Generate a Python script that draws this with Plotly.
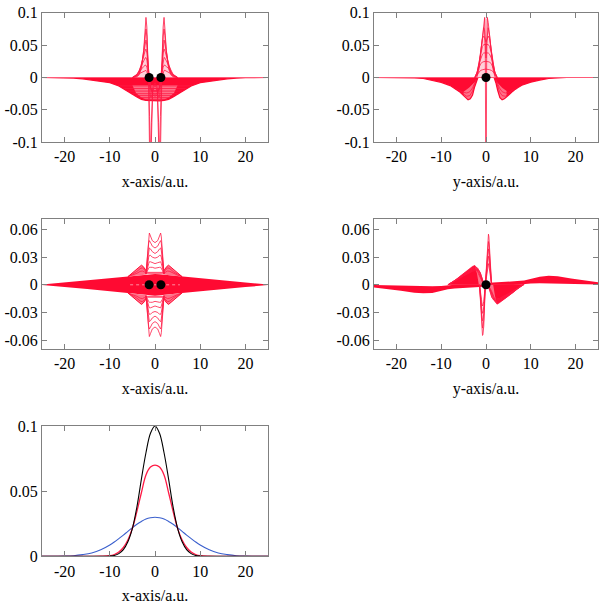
import plotly.graph_objects as go

RED = "#ff0a32"
PINK = "#ff7088"
LINE = "#ff1a45"
FONT = "Liberation Serif"
FS = 16

# ---------------- Panel 1 (x-axis, top left) ----------------
env1_x = [-25, -20, -18, -16, -14, -12, -10, -8, -6.5, -5, -4, -3, -2, -1, 0,
          1, 2, 3, 4, 5, 6.5, 8, 10, 12, 14, 16, 18, 20, 25]
env1_y = [0, -0.0001, -0.0008, -0.002, -0.0038, -0.0058, -0.008, -0.0132, -0.019, -0.026, -0.030, -0.0338, -0.0355, -0.036, -0.036,
          -0.036, -0.0355, -0.0338, -0.030, -0.026, -0.019, -0.0132, -0.008, -0.0058, -0.0038, -0.002, -0.0008, -0.0001, 0]
pink1_x = [-5, 5, 4.2, 3, 2, 0, -2, -3, -4.2]
pink1_y = [-0.012, -0.012, -0.024, -0.031, -0.034, -0.0345, -0.034, -0.031, -0.024]
mesh1_d = [-0.013, -0.017, -0.021, -0.025, -0.028, -0.031, -0.0335]
mesh1_hw = [8.0, 7.0, 6.1, 5.2, 4.5, 3.8, 3.1]
peakfill1_x = [-4, -3.5, -3, -2.5, -2.2, -2, -1.8, -1.6, -1.45, -4]
peakfill1_y = [0, 0.004, 0.014, 0.042, 0.075, 0.093, 0.078, 0.035, 0, 0]
peakfill1r_x = [4, 3.5, 3, 2.5, 2.2, 2, 1.8, 1.6, 1.45, 4]
peakfill1r_y = [0, 0.004, 0.014, 0.042, 0.075, 0.093, 0.078, 0.035, 0, 0]
pk1_x = [-5, -4, -3.5, -3, -2.5, -2.2, -2, -1.8, -1.6, -1.4, -1.2, -1.0, -0.8, -0.5, 0,
         0.5, 0.8, 1.0, 1.2, 1.4, 1.6, 1.8, 2, 2.2, 2.5, 3, 3.5, 4, 5]
pk1_A = [0, 0.001, 0.004, 0.014, 0.042, 0.075, 0.093, 0.078, 0.035, -0.01, -0.12, -0.2, -0.1, -0.015, -0.008,
         -0.015, -0.1, -0.2, -0.12, -0.01, 0.035, 0.078, 0.093, 0.075, 0.042, 0.014, 0.004, 0.001, 0]
pk1_B = [0, 0.002, 0.006, 0.017, 0.042, 0.065, 0.075, 0.064, 0.032, 0.0, -0.06, -0.13, -0.07, -0.018, -0.012,
         -0.018, -0.07, -0.13, -0.06, 0.0, 0.032, 0.064, 0.075, 0.065, 0.042, 0.017, 0.006, 0.002, 0]
pk1_C = [0, 0.003, 0.008, 0.019, 0.038, 0.052, 0.058, 0.05, 0.027, 0.006, -0.012, -0.03, -0.03, -0.02, -0.016,
         -0.02, -0.03, -0.03, -0.012, 0.006, 0.027, 0.05, 0.058, 0.052, 0.038, 0.019, 0.008, 0.003, 0]
pk1_D = [0, 0.004, 0.01, 0.02, 0.033, 0.041, 0.044, 0.038, 0.022, 0.007, -0.006, -0.016, -0.02, -0.02, -0.019,
         -0.02, -0.02, -0.016, -0.006, 0.007, 0.022, 0.038, 0.044, 0.041, 0.033, 0.02, 0.01, 0.004, 0]
pk1_E = [0, 0.005, 0.011, 0.019, 0.026, 0.03, 0.031, 0.027, 0.016, 0.005, -0.005, -0.013, -0.019, -0.022, -0.022,
         -0.022, -0.019, -0.013, -0.005, 0.005, 0.016, 0.027, 0.031, 0.03, 0.026, 0.019, 0.011, 0.005, 0]
pk1_F = [0, 0.004, 0.009, 0.014, 0.017, 0.019, 0.019, 0.016, 0.009, 0.002, -0.006, -0.014, -0.02, -0.025, -0.026,
         -0.025, -0.02, -0.014, -0.006, 0.002, 0.009, 0.016, 0.019, 0.019, 0.017, 0.014, 0.009, 0.004, 0]
pk1_G = [0, 0.003, 0.006, 0.008, 0.01, 0.011, 0.011, 0.009, 0.004, -0.002, -0.009, -0.016, -0.022, -0.027, -0.029,
         -0.027, -0.022, -0.016, -0.009, -0.002, 0.004, 0.009, 0.011, 0.011, 0.01, 0.008, 0.006, 0.003, 0]
nuc1_x = [-1.3, 1.3]
nuc1_y = [0, 0]

# ---------------- Panel 2 (y-axis, top right) ----------------
env2_x = [-25, -18, -16, -14, -12, -10, -8, -7, -6, -5, -4.5, -4, -3.5, -3, -2.6, -2.2, -1.8,
          1.8, 2.2, 2.6, 3.1, 3.6, 4.1, 4.6, 5.5, 6.5, 8, 10, 12, 14, 16, 18, 25]
env2_y = [0, 0, -0.0005, -0.0015, -0.004, -0.0075, -0.0125, -0.0165, -0.0215, -0.028, -0.032, -0.0345, -0.033, -0.027, -0.016, -0.006, 0,
          0, -0.008, -0.02, -0.031, -0.0345, -0.033, -0.03, -0.024, -0.018, -0.012, -0.0072, -0.004, -0.0015, -0.0005, 0, 0]
pw2L_x = [-5.0, -4.5, -4.0, -3.5, -3.0, -2.6, -2.3, -2.4, -3.0, -3.8, -5.0]
pw2L_y = [-0.028, -0.032, -0.0345, -0.033, -0.027, -0.016, -0.009, -0.006, -0.011, -0.016, -0.022]
pw2R_x = [2.2, 2.6, 3.1, 3.6, 4.1, 4.6, 4.6, 3.6, 2.9, 2.3]
pw2R_y = [-0.008, -0.02, -0.031, -0.0345, -0.033, -0.03, -0.021, -0.016, -0.011, -0.006]
wl2_x = [-7, -6, -5, -4.3, -3.6, -3.0, -2.6, -2.2]
wl2_a = [-0.0165, -0.021, -0.026, -0.029, -0.028, -0.021, -0.012, -0.004]
wl2_b = [-0.0165, -0.02, -0.023, -0.024, -0.022, -0.016, -0.009, -0.003]
wr2_x = [2.2, 2.6, 3.0, 3.6, 4.3, 5.0, 6.0, 7.0]
wr2_a = [-0.004, -0.013, -0.022, -0.028, -0.029, -0.026, -0.021, -0.0165]
wr2_b = [-0.003, -0.009, -0.016, -0.022, -0.024, -0.023, -0.02, -0.016]
peakfill2_x = [-2.2, -2, -1.6, -1.2, -0.8, -0.5, -0.3, 0, 0.3, 0.5, 0.8, 1.2, 1.6, 2, 2.2]
peakfill2_y = [0, 0.001, 0.012, 0.035, 0.064, 0.085, 0.093, 0.09, 0.093, 0.085, 0.064, 0.035, 0.012, 0.001, 0]
pk2_x = [-2.5, -2, -1.6, -1.2, -0.8, -0.5, -0.3, -0.15, 0, 0.15, 0.3, 0.5, 0.8, 1.2, 1.6, 2, 2.5]
pk2_A = [0, 0.001, 0.012, 0.035, 0.064, 0.085, 0.093, 0.03, -0.25, 0.03, 0.093, 0.085, 0.064, 0.035, 0.012, 0.001, 0]
pk2_B = [0, 0.003, 0.016, 0.04, 0.065, 0.077, 0.072, 0.055, 0.03, 0.055, 0.072, 0.077, 0.065, 0.04, 0.016, 0.003, 0]
pk2_C = [0, 0.005, 0.02, 0.042, 0.06, 0.064, 0.062, 0.058, 0.055, 0.058, 0.062, 0.064, 0.06, 0.042, 0.02, 0.005, 0]
pk2_D = [0, 0.007, 0.022, 0.038, 0.048, 0.051, 0.051, 0.05, 0.05, 0.05, 0.051, 0.051, 0.048, 0.038, 0.022, 0.007, 0]
pk2_E = [0, 0.008, 0.02, 0.03, 0.036, 0.038, 0.038, 0.038, 0.038, 0.038, 0.038, 0.038, 0.036, 0.03, 0.02, 0.008, 0]
pk2_F = [0, 0.008, 0.015, 0.021, 0.024, 0.025, 0.025, 0.025, 0.025, 0.025, 0.025, 0.025, 0.024, 0.021, 0.015, 0.008, 0]
pk2_G = [0, 0.005, 0.009, 0.011, 0.012, 0.013, 0.013, 0.013, 0.013, 0.013, 0.013, 0.013, 0.012, 0.011, 0.009, 0.005, 0]
nuc2_x = [0]
nuc2_y = [0]

# ---------------- Panel 3 (x-axis, middle left) ----------------
band3_x = [-25, -20, -15, -10, -7, -6, -5, -4, -3, -2, -1, 0, 1, 2, 3, 4, 5, 6, 7, 10, 15, 20, 25]
band3_up = [0.0003, 0.0025, 0.0045, 0.0068, 0.0082, 0.0088, 0.0094, 0.0099, 0.0104, 0.0109, 0.0114, 0.0118,
            0.0114, 0.0109, 0.0104, 0.0099, 0.0094, 0.0088, 0.0082, 0.0068, 0.0045, 0.0025, 0.0003]
band3_lo = [-0.0003, -0.0025, -0.0045, -0.0068, -0.0082, -0.0088, -0.0094, -0.0099, -0.0104, -0.0109, -0.0114, -0.0118,
            -0.0114, -0.0109, -0.0104, -0.0099, -0.0094, -0.0088, -0.0082, -0.0068, -0.0045, -0.0025, -0.0003]
shL_x = [-6, -5.5, -4.5, -3.5, -3, -2.6, -2.2, -1.85, -1.85, -3, -4.5, -6]
shL_up = [0.0088, 0.011, 0.0145, 0.019, 0.0213, 0.0198, 0.0165, 0.0145, 0.0112, 0.0104, 0.0097, 0.0088]
shL_lo = [-0.0088, -0.011, -0.0145, -0.019, -0.0213, -0.0198, -0.0165, -0.0145, -0.0112, -0.0104, -0.0097, -0.0088]
shR_x = [6, 5.5, 4.5, 3.5, 3, 2.6, 2.2, 1.85, 1.85, 3, 4.5, 6]
shR_up = [0.0088, 0.011, 0.0145, 0.019, 0.0213, 0.0198, 0.0165, 0.0145, 0.0112, 0.0104, 0.0097, 0.0088]
shR_lo = [-0.0088, -0.011, -0.0145, -0.019, -0.0213, -0.0198, -0.0165, -0.0145, -0.0112, -0.0104, -0.0097, -0.0088]
sline_x = [-6, -5, -4, -3.3, -2.8, -2.3, -1.85, 1.85, 2.3, 2.8, 3.3, 4, 5, 6]
sline_a = [0.0088, 0.0115, 0.0145, 0.0175, 0.0185, 0.016, 0.0135, 0.0135, 0.016, 0.0185, 0.0175, 0.0145, 0.0115, 0.0088]
sline_b = [0.0088, 0.0105, 0.0125, 0.0145, 0.015, 0.0138, 0.0125, 0.0125, 0.0138, 0.015, 0.0145, 0.0125, 0.0105, 0.0088]
sline_an = [-0.0088, -0.0115, -0.0145, -0.0175, -0.0185, -0.016, -0.0135, -0.0135, -0.016, -0.0185, -0.0175, -0.0145, -0.0115, -0.0088]
sline_bn = [-0.0088, -0.0105, -0.0125, -0.0145, -0.015, -0.0138, -0.0125, -0.0125, -0.0138, -0.015, -0.0145, -0.0125, -0.0105, -0.0088]
tall3_x = [-2.0, -1.85, -1.6, -1.4, -1.25, -1.0, -0.6, 0, 0.6, 1.0, 1.25, 1.4, 1.6, 1.85, 2.0]
tall3 = [
    [0.012, 0.02, 0.04, 0.052, 0.0562, 0.053, 0.048, 0.0458, 0.048, 0.053, 0.0562, 0.052, 0.04, 0.02, 0.012],
    [0.012, 0.018, 0.034, 0.045, 0.048, 0.046, 0.042, 0.040, 0.042, 0.046, 0.048, 0.045, 0.034, 0.018, 0.012],
    [0.012, 0.016, 0.028, 0.037, 0.040, 0.039, 0.036, 0.034, 0.036, 0.039, 0.040, 0.037, 0.028, 0.016, 0.012],
    [0.012, 0.015, 0.023, 0.030, 0.032, 0.032, 0.030, 0.029, 0.030, 0.032, 0.032, 0.030, 0.023, 0.015, 0.012],
    [0.012, 0.014, 0.019, 0.023, 0.025, 0.025, 0.024, 0.023, 0.024, 0.025, 0.025, 0.023, 0.019, 0.014, 0.012],
    [0.012, 0.013, 0.016, 0.018, 0.019, 0.019, 0.019, 0.018, 0.019, 0.019, 0.019, 0.018, 0.016, 0.013, 0.012],
]
tall3n = [
    [-0.012, -0.02, -0.04, -0.052, -0.0562, -0.053, -0.048, -0.0458, -0.048, -0.053, -0.0562, -0.052, -0.04, -0.02, -0.012],
    [-0.012, -0.018, -0.034, -0.045, -0.048, -0.046, -0.042, -0.040, -0.042, -0.046, -0.048, -0.045, -0.034, -0.018, -0.012],
    [-0.012, -0.016, -0.028, -0.037, -0.040, -0.039, -0.036, -0.034, -0.036, -0.039, -0.040, -0.037, -0.028, -0.016, -0.012],
    [-0.012, -0.015, -0.023, -0.030, -0.032, -0.032, -0.030, -0.029, -0.030, -0.032, -0.032, -0.030, -0.023, -0.015, -0.012],
    [-0.012, -0.014, -0.019, -0.023, -0.025, -0.025, -0.024, -0.023, -0.024, -0.025, -0.025, -0.023, -0.019, -0.014, -0.012],
    [-0.012, -0.013, -0.016, -0.018, -0.019, -0.019, -0.019, -0.018, -0.019, -0.019, -0.019, -0.018, -0.016, -0.013, -0.012],
]
mid3_x = [-5.5, 5.5]
mid3_y = [0, 0]
nuc3_x = [-1.3, 1.3]
nuc3_y = [0, 0]

# ---------------- Panel 4 (y-axis, middle right) ----------------
band4_x = [-25, -22, -19, -16, -14, -12, -10, -8.5, -7, -5, -3, -1.5, 0, 1.5, 3, 5, 7, 8.5, 10, 12, 14, 16, 19, 22, 25]
band4_up = [-0.0003, -0.0007, -0.0012, -0.0016, -0.0018, -0.0016, -0.0013, -0.0005, 0.0, 0.0005, 0.001, 0.0015, 0.002,
            0.0025, 0.003, 0.0035, 0.004, 0.0048, 0.0068, 0.0088, 0.0098, 0.0093, 0.0068, 0.0045, 0.0027]
band4_lo = [-0.0028, -0.0045, -0.0065, -0.0085, -0.0093, -0.0088, -0.0068, -0.0048, -0.004, -0.0035, -0.003, -0.0025, -0.002,
            -0.0015, -0.001, -0.0005, 0.0, 0.0005, 0.0013, 0.0016, 0.0018, 0.0016, 0.0012, 0.0007, 0.0003]
lobeP_x = [-8.5, -7, -6, -5, -4, -3, -2.5, -2.1, -1.7, -1.3, -1.0, -0.7, -0.4]
lobeP = [
    [0, 0.0045, 0.0085, 0.0125, 0.0165, 0.020, 0.021, 0.0175, 0.012, 0.0075, 0.0045, 0.002, 0.0],
    [0, 0.0043, 0.008, 0.0118, 0.0155, 0.0185, 0.0195, 0.019, 0.014, 0.009, 0.0055, 0.0025, 0.0],
    [0, 0.0041, 0.0076, 0.0111, 0.0145, 0.0172, 0.0181, 0.0182, 0.0165, 0.011, 0.0065, 0.003, 0.0],
    [0, 0.0039, 0.0072, 0.0104, 0.0135, 0.016, 0.0167, 0.0170, 0.0165, 0.0135, 0.008, 0.0035, 0.0],
    [0, 0.0037, 0.0068, 0.0097, 0.0125, 0.0148, 0.0154, 0.0157, 0.0155, 0.0135, 0.009, 0.004, 0.0],
]
lobeP_env = [0, 0.0045, 0.0085, 0.0125, 0.0165, 0.020, 0.021, 0.019, 0.0182, 0.0135, 0.009, 0.004, 0.0]
coreP_x = [-8.5, -7, -6, -5, -4, -3, -2.5, -2.0, -1.6, -8.5]
coreP_y = [0, 0.0045, 0.0085, 0.0125, 0.0165, 0.020, 0.021, 0.012, 0.0, 0]
lobeN_x = [0.4, 0.7, 1.0, 1.3, 1.7, 2.1, 2.45, 3, 4, 5, 6, 7, 8, 8.5]
lobeN = [
    [0, -0.002, -0.0045, -0.0075, -0.012, -0.0175, -0.021, -0.0195, -0.016, -0.0125, -0.0085, -0.0045, -0.0005, 0.0005],
    [0, -0.0025, -0.0055, -0.009, -0.014, -0.019, -0.0195, -0.0185, -0.0153, -0.012, -0.0082, -0.0043, -0.0005, 0.0005],
    [0, -0.003, -0.0065, -0.011, -0.0165, -0.0182, -0.0181, -0.0172, -0.0145, -0.0113, -0.0078, -0.0041, -0.0005, 0.0005],
    [0, -0.0035, -0.008, -0.0135, -0.0165, -0.017, -0.0167, -0.016, -0.0135, -0.0105, -0.0073, -0.0039, -0.0005, 0.0005],
    [0, -0.004, -0.009, -0.0135, -0.0155, -0.0157, -0.0154, -0.0148, -0.0125, -0.0097, -0.0068, -0.0037, -0.0005, 0.0005],
]
lobeN_env = [0, -0.004, -0.009, -0.0135, -0.0165, -0.019, -0.021, -0.0195, -0.016, -0.0125, -0.0085, -0.0045, -0.0005, 0.0005]
coreN_x = [2.45, 3, 4, 5, 6, 7, 8, 8.5, 1.6, 2.0]
coreN_y = [-0.021, -0.0195, -0.016, -0.0125, -0.0085, -0.0045, -0.0005, 0.0005, 0.0, -0.012]
spP_x = [-0.15, 0.1, 0.3, 0.45, 0.55, 0.65, 0.8, 1.0, 1.25]
spP = [
    [0, 0.02, 0.045, 0.054, 0.055, 0.052, 0.04, 0.018, 0],
    [0, 0.017, 0.038, 0.046, 0.047, 0.044, 0.034, 0.015, 0],
    [0, 0.014, 0.031, 0.038, 0.039, 0.036, 0.028, 0.012, 0],
    [0, 0.011, 0.024, 0.030, 0.031, 0.029, 0.022, 0.010, 0],
    [0, 0.008, 0.018, 0.022, 0.023, 0.021, 0.016, 0.007, 0],
]
spN_x = [-1.45, -1.2, -1.0, -0.88, -0.78, -0.68, -0.5, -0.3, -0.15]
spN = [
    [0, -0.018, -0.04, -0.052, -0.055, -0.054, -0.045, -0.02, 0],
    [0, -0.015, -0.034, -0.044, -0.047, -0.046, -0.038, -0.017, 0],
    [0, -0.012, -0.028, -0.036, -0.039, -0.038, -0.031, -0.014, 0],
    [0, -0.009, -0.022, -0.028, -0.031, -0.030, -0.024, -0.011, 0],
    [0, -0.007, -0.016, -0.021, -0.023, -0.022, -0.018, -0.008, 0],
]
nuc4_x = [0]
nuc4_y = [0]

# ---------------- Panel 5 (densities) ----------------
p5_x = [-25, -22, -20, -18, -16, -14, -12, -10, -9, -8, -7, -6, -5, -4, -3, -2, -1, 0,
        1, 2, 3, 4, 5, 6, 7, 8, 9, 10, 12, 14, 16, 18, 20, 22, 25]
p5_black = [0, 0, 0, 0, 0, 0, 0, 0.0002, 0.0007, 0.0021, 0.0052, 0.0112, 0.0215, 0.038, 0.0595, 0.0795, 0.0945, 0.1,
            0.0945, 0.0795, 0.0595, 0.038, 0.0215, 0.0112, 0.0052, 0.0021, 0.0007, 0.0002, 0, 0, 0, 0, 0, 0, 0]
p5_red = [0, 0, 0, 0, 0, 0, 0.0001, 0.0005, 0.0014, 0.0033, 0.0068, 0.0125, 0.0215, 0.0345, 0.049, 0.0625, 0.0685, 0.07,
          0.0685, 0.0625, 0.049, 0.0345, 0.0215, 0.0125, 0.0068, 0.0033, 0.0014, 0.0005, 0.0001, 0, 0, 0, 0, 0, 0]
p5_blue = [0, 0.0001, 0.0002, 0.0005, 0.0013, 0.0026, 0.005, 0.0087, 0.011, 0.0136, 0.0163, 0.0192, 0.022, 0.0246, 0.0268, 0.0286, 0.0296, 0.030,
           0.0296, 0.0286, 0.0268, 0.0246, 0.022, 0.0192, 0.0163, 0.0136, 0.011, 0.0087, 0.005, 0.0026, 0.0013, 0.0005, 0.0002, 0.0001, 0]

x_ticks = [-20, -10, 0, 10, 20]
x_ticktext = ["-20", "-10", "0", "10", "20"]
y12_ticks = [-0.1, -0.05, 0, 0.05, 0.1]
y12_text = ["-0.1", "-0.05", "0", "0.05", "0.1"]
y34_ticks = [-0.06, -0.03, 0, 0.03, 0.06]
y34_text = ["-0.06", "-0.03", "0", "0.03", "0.06"]
y5_ticks = [0, 0.05, 0.1]
y5_text = ["0", "0.05", "0.1"]

fig = go.Figure()


def add(i, **kw):
    kw.setdefault("mode", "lines")
    kw.setdefault("showlegend", False)
    kw.setdefault("hoverinfo", "skip")
    fig.add_trace(go.Scatter(xaxis="x%d" % i, yaxis="y%d" % i, **kw))


def line(i, x, y, color=LINE, width=0.8, dash="solid"):
    add(i, x=x, y=y, line=dict(color=color, width=width, dash=dash))


def poly(i, x, y, color):
    add(i, x=x, y=y, fill="toself", fillcolor=color, line=dict(width=0))


def dots(i, x, y):
    add(i, x=x, y=y, mode="markers", marker=dict(color="black", size=9))


PEAKFILL = "rgba(255,120,145,0.35)"

# Panel 1
poly(1, env1_x, env1_y, RED)
poly(1, pink1_x, pink1_y, PINK)
poly(1, peakfill1_x, peakfill1_y, PEAKFILL)
poly(1, peakfill1r_x, peakfill1r_y, PEAKFILL)
mx, my = [], []
for d, hw in zip(mesh1_d, mesh1_hw):
    mx += [-hw, hw, None]
    my += [d, d, None]
line(1, mx, my, LINE, 0.8)
line(1, env1_x, env1_y, RED, 1.2)
line(1, [-25, 25], [0, 0], "#ff5a78", 1)
for c in [pk1_A, pk1_B, pk1_C, pk1_D, pk1_E, pk1_F, pk1_G]:
    line(1, pk1_x, c, LINE, 0.8)
dots(1, nuc1_x, nuc1_y)

# Panel 2
poly(2, env2_x, env2_y, RED)
poly(2, pw2L_x, pw2L_y, PINK)
poly(2, pw2R_x, pw2R_y, PINK)
poly(2, peakfill2_x, peakfill2_y, PEAKFILL)
for c in [wl2_a, wl2_b]:
    line(2, wl2_x, c)
for c in [wr2_a, wr2_b]:
    line(2, wr2_x, c)
line(2, env2_x, env2_y, RED, 1.2)
line(2, [-25, 25], [0, 0], "#ff5a78", 1)
for c in [pk2_A, pk2_B, pk2_C, pk2_D, pk2_E, pk2_F, pk2_G]:
    line(2, pk2_x, c, LINE, 0.8)
dots(2, nuc2_x, nuc2_y)

# Panel 3
poly(3, band3_x + band3_x[::-1], band3_up + band3_lo[::-1], RED)
for sx, sy in [(shL_x, shL_up), (shL_x, shL_lo), (shR_x, shR_up), (shR_x, shR_lo)]:
    poly(3, sx, sy, PINK)
for c in [sline_a, sline_b, sline_an, sline_bn]:
    line(3, sline_x, c)
for sx, sy in [(shL_x[:8], shL_up[:8]), (shL_x[:8], shL_lo[:8]), (shR_x[:8], shR_up[:8]), (shR_x[:8], shR_lo[:8])]:
    line(3, sx, sy, RED, 1.0)
for c in tall3 + tall3n:
    line(3, tall3_x, c, LINE, 0.8)
line(3, mid3_x, mid3_y, "#ff8da0", 1, "dot")
dots(3, nuc3_x, nuc3_y)

# Panel 4
poly(4, band4_x + band4_x[::-1], band4_up + band4_lo[::-1], RED)
poly(4, lobeP_x + [-0.4, -8.5], lobeP_env + [0, 0], PINK)
poly(4, coreP_x, coreP_y, RED)
poly(4, lobeN_x + [8.5, 0.4], lobeN_env + [0, 0], PINK)
poly(4, coreN_x, coreN_y, RED)
for c in lobeP:
    line(4, lobeP_x, c)
for c in lobeN:
    line(4, lobeN_x, c)
for c in spP:
    line(4, spP_x, c)
for c in spN:
    line(4, spN_x, c)
dots(4, nuc4_x, nuc4_y)

# Panel 5
add(5, x=p5_x, y=p5_blue, line=dict(color="#3a5fcd", width=1.1, shape="spline"))
add(5, x=p5_x, y=p5_red, line=dict(color="#ff1a45", width=1.3, shape="spline"))
add(5, x=p5_x, y=p5_black, line=dict(color="black", width=1.1, shape="spline"))

axis_common = dict(showline=True, linecolor="#808080", linewidth=1, mirror="ticks",
                   ticks="inside", ticklen=5, tickcolor="#808080", tickwidth=1,
                   showgrid=False, zeroline=False,
                   tickfont=dict(family=FONT, size=FS, color="black"))

XL = [42 / 600, 268 / 600]
XR = [374 / 600, 598 / 600]
Y1 = [1 - 138 / 612, 1 - 5 / 612]
Y2 = [1 - 351 / 612, 1 - 217 / 612]
Y3 = [1 - 564 / 612, 1 - 430 / 612]

panels = [
    (1, XL, Y1, [-0.1, 0.1], y12_ticks, y12_text, "x-axis/a.u."),
    (2, XR, Y1, [-0.1, 0.1], y12_ticks, y12_text, "y-axis/a.u."),
    (3, XL, Y2, [-0.07, 0.0715], y34_ticks, y34_text, "x-axis/a.u."),
    (4, XR, Y2, [-0.07, 0.0715], y34_ticks, y34_text, "y-axis/a.u."),
    (5, XL, Y3, [0, 0.1], y5_ticks, y5_text, "x-axis/a.u."),
]
layout = dict(width=600, height=612, margin=dict(l=0, r=0, t=0, b=0),
              paper_bgcolor="white", plot_bgcolor="white", showlegend=False)
for i, xd, yd, yr, yt, ytt, title in panels:
    sfx = "" if i == 1 else str(i)
    layout["xaxis" + sfx] = dict(axis_common, domain=xd, range=[-25, 25], anchor="y%d" % i,
                                 tickvals=x_ticks, ticktext=x_ticktext,
                                 title=dict(text=title, font=dict(family=FONT, size=FS, color="black"), standoff=11))
    layout["yaxis" + sfx] = dict(axis_common, domain=yd, range=yr, anchor="x%d" % i,
                                 tickvals=yt, ticktext=ytt)
fig.update_layout(**layout)
fig.write_html("out.html", config={"displayModeBar": False},
               post_script="document.body.style.margin='0';document.body.style.overflow='hidden';")
